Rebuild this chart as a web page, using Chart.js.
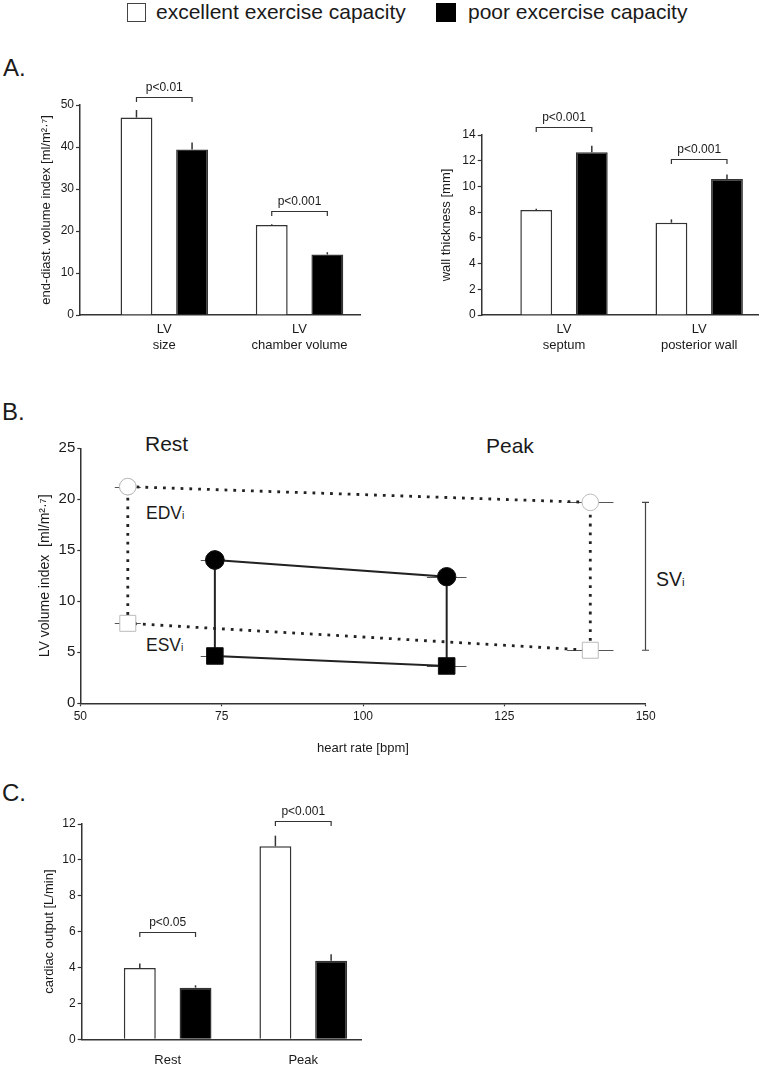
<!DOCTYPE html>
<html><head><meta charset="utf-8">
<script src="https://cdn.jsdelivr.net/npm/chart.js@4/dist/chart.umd.min.js"></script>
<style>
body{margin:0;background:#fff;}
#page{position:relative;width:760px;height:1066px;overflow:hidden;font-family:"Liberation Sans",Arial,sans-serif;color:#1a1a1a;background:#fff;}
.t{position:absolute;white-space:nowrap;line-height:1;}
.box{position:absolute;box-sizing:border-box;}
canvas{position:absolute;}
.sub{font-size:0.6em;}
</style></head><body><div id="page">
<div class="box" style="left:127px;top:3px;width:19px;height:19px;border:1.5px solid #444;background:#fff"></div>
<div class="t" id="lg0" style="left:156px;top:1px;font-size:21px"></div>
<div class="box" style="left:436px;top:3px;width:20px;height:19px;background:#000"></div>
<div class="t" id="lg1" style="left:468px;top:1px;font-size:21px"></div>
<div class="t" style="left:3px;top:56px;font-size:24px">A.</div>
<div class="t" style="left:2px;top:400px;font-size:24px">B.</div>
<div class="t" style="left:2px;top:781px;font-size:24px">C.</div>
<div class="t" style="left:145px;top:433px;font-size:21px">Rest</div>
<div class="t" style="left:486px;top:435px;font-size:21px">Peak</div>
<div class="t" style="left:146px;top:505px;font-size:17.5px">EDV<span class="sub">i</span></div>
<div class="t" style="left:146px;top:637px;font-size:17.5px">ESV<span class="sub">i</span></div>
<div class="t" style="left:656px;top:570px;font-size:19.5px">SV<span class="sub">i</span></div>
<canvas id="cA1" width="380" height="305" style="left:0;top:70px"></canvas>
<canvas id="cA2" width="380" height="305" style="left:380px;top:70px"></canvas>
<canvas id="cB" width="760" height="341" style="left:0;top:425px"></canvas>
<canvas id="cC" width="400" height="286" style="left:0;top:780px"></canvas>
</div>
<script>
// ---------- data ----------
const groups = ['excellent exercise capacity', 'poor excercise capacity'];

// Panel A (left): end-diastolic volume index
const catsA1 = [['LV', 'size'], ['LV', 'chamber volume']];
const edviExcellent = [47.0, 21.4];
const edviPoor = [39.4, 14.4];
const edviExcellentErr = [1.8, 0.2];
const edviPoorErr = [1.7, 0.55];
const sigA1Labels = ['p<0.01', 'p<0.001'];
const sigA1Levels = [51.8, 24.8];

// Panel A (right): wall thickness
const catsA2 = [['LV', 'septum'], ['LV', 'posterior wall']];
const wallExcellent = [8.16, 7.18];
const wallPoor = [12.65, 10.58];
const wallExcellentErr = [0.1, 0.26];
const wallPoorErr = [0.52, 0.34];
const sigA2Labels = ['p<0.001', 'p<0.001'];
const sigA2Levels = [14.62, 12.11];

// Panel B: LV volume index vs heart rate (rest, peak)
const hrExcellent = [58.4, 140.2];
const hrPoor = [73.8, 114.8];
const hrExcellentSD = [2.3, 4.1];
const hrPoorSD = [2.5, 3.5];
const edvExcellent = [21.24, 19.7];
const esvExcellent = [7.84, 5.2];
const edvPoor = [14.05, 12.41];
const esvPoor = [4.64, 3.66];

// Panel C: cardiac output
const catsC = ['Rest', 'Peak'];
const coExcellent = [3.97, 10.76];
const coPoor = [2.88, 4.38];
const coExcellentErr = [0.26, 0.59];
const coPoorErr = [0.13, 0.36];
const sigCLabels = ['p<0.05', 'p<0.001'];
const sigCLevels = [6.0, 12.18];

// ---------- rendering ----------
document.getElementById('lg0').textContent = groups[0];
document.getElementById('lg1').textContent = groups[1];

Chart.defaults.font.family = '"Liberation Sans", Arial, sans-serif';
Chart.defaults.color = '#1a1a1a';
Chart.defaults.animation = false;

function barAnnotPlugin(levels, labels) {
  return {
    id: 'barAnnot',
    afterDatasetsDraw(chart) {
      const ctx = chart.ctx, y = chart.scales.y;
      ctx.save();
      ctx.strokeStyle = '#333';
      ctx.lineWidth = 1.5;
      chart.data.datasets.forEach((ds, di) => {
        const meta = chart.getDatasetMeta(di);
        meta.data.forEach((bar, i) => {
          const v = ds.data[i].y, e = ds.errors[i];
          ctx.beginPath();
          ctx.moveTo(bar.x, y.getPixelForValue(v));
          ctx.lineTo(bar.x, y.getPixelForValue(v + e));
          ctx.stroke();
        });
      });
      const m0 = chart.getDatasetMeta(0), m1 = chart.getDatasetMeta(1);
      ctx.lineWidth = 1.2;
      ctx.fillStyle = '#1a1a1a';
      ctx.font = '12px "Liberation Sans", Arial, sans-serif';
      ctx.textAlign = 'center';
      ctx.textBaseline = 'alphabetic';
      levels.forEach((lv, i) => {
        const yy = Math.round(y.getPixelForValue(lv)) + 0.5;
        const x0 = m0.data[i].x, x1 = m1.data[i].x;
        ctx.beginPath();
        ctx.moveTo(x0, yy + 4.5); ctx.lineTo(x0, yy); ctx.lineTo(x1, yy); ctx.lineTo(x1, yy + 4.5);
        ctx.stroke();
        ctx.fillText(labels[i], (x0 + x1) / 2, yy - 7);
      });
      ctx.restore();
    }
  };
}

function barChart(id, cats, s1, s2, e1, e2, levels, labels, o) {
  const toXY = arr => arr.map((v, i) => ({ x: i, y: v }));
  new Chart(document.getElementById(id), {
    type: 'bar',
    data: {
      datasets: [
        { label: groups[0], data: toXY(s1), errors: e1, backgroundColor: '#ffffff', borderColor: '#333', borderWidth: 1.5,
          categoryPercentage: 0.822, barPercentage: 0.573 },
        { label: groups[1], data: toXY(s2), errors: e2, backgroundColor: '#000000', borderColor: '#333', borderWidth: 1.5,
          categoryPercentage: 0.822, barPercentage: 0.573 }
      ]
    },
    options: {
      responsive: false,
      layout: { padding: { top: o.padTop, right: o.padRight, left: 0, bottom: 0 } },
      plugins: { legend: { display: false }, tooltip: { enabled: false } },
      scales: {
        x: {
          type: 'linear', min: o.xMin, max: o.xMax, offset: false,
          afterBuildTicks: s => { s.ticks = cats.map((c, i) => ({ value: i })); },
          ticks: { callback: v => cats[v], font: { size: 13 }, padding: o.xPad, maxRotation: 0, autoSkip: false },
          grid: { display: false, drawTicks: false, offset: false },
          border: { color: '#333', width: 1.5 },
          afterFit: s => { s.height = o.xH; }
        },
        y: {
          min: 0, max: o.yMax,
          ticks: { stepSize: o.step, font: { size: 12 }, padding: 2 },
          grid: { drawOnChartArea: false, drawTicks: true, tickLength: 4, tickColor: '#333', tickWidth: 1.2 },
          border: { color: '#333', width: 1.5 },
          title: { display: true, text: o.yTitle, font: { size: 13 }, padding: { top: o.titlePad, bottom: 0 } },
          afterFit: s => { s.width = o.axisW; }
        }
      }
    },
    plugins: [barAnnotPlugin(levels, labels)]
  });
}

barChart('cA1', catsA1, edviExcellent, edviPoor, edviExcellentErr, edviPoorErr, sigA1Levels, sigA1Labels,
  { padTop: 35, padRight: 20, xMin: -0.623, xMax: 1.447, xPad: 7, xH: 60, yMax: 50, step: 10,
    yTitle: 'end-diast. volume index [ml/m²·⁷]', titlePad: 39, axisW: 80 });

barChart('cA2', catsA2, wallExcellent, wallPoor, wallExcellentErr, wallPoorErr, sigA2Levels, sigA2Labels,
  { padTop: 65, padRight: 2, xMin: -0.609, xMax: 1.435, xPad: 7, xH: 60, yMax: 14, step: 2,
    yTitle: 'wall thickness [mm]', titlePad: 59, axisW: 101.7 });

barChart('cC', catsC, coExcellent, coPoor, coExcellentErr, coPoorErr, sigCLevels, sigCLabels,
  { padTop: 44, padRight: 38.3, xMin: -0.634, xMax: 1.431, xPad: 13, xH: 26.7, yMax: 12, step: 2,
    yTitle: 'cardiac output [L/min]', titlePad: 42, axisW: 81.7 });

// Panel B
function loop(hr, edv, esv) {
  return [
    { x: hr[0], y: edv[0] }, { x: hr[1], y: edv[1] },
    { x: hr[1], y: esv[1] }, { x: hr[0], y: esv[0] }, { x: hr[0], y: edv[0] }
  ];
}
const pbPlugin = {
  id: 'pbAnnot',
  beforeDatasetsDraw(chart) {
    const ctx = chart.ctx, xs = chart.scales.x, ys = chart.scales.y;
    ctx.save();
    ctx.strokeStyle = '#555';
    ctx.lineWidth = 1;
    chart.data.datasets.forEach(ds => {
      ds.data.slice(0, 4).forEach((p, i) => {
        const sd = ds.hrSD[(i === 0 || i === 3) ? 0 : 1];
        const yy = Math.round(ys.getPixelForValue(p.y)) + 0.5;
        ctx.beginPath();
        ctx.moveTo(xs.getPixelForValue(p.x - sd), yy);
        ctx.lineTo(xs.getPixelForValue(p.x + sd), yy);
        ctx.stroke();
      });
    });
    ctx.restore();
  },
  afterDatasetsDraw(chart) {
    const ctx = chart.ctx, xs = chart.scales.x, ys = chart.scales.y;
    const x = Math.round(xs.getPixelForValue(xs.max)) - 0.5;
    const y0 = ys.getPixelForValue(edvExcellent[1]);
    const y1 = ys.getPixelForValue(esvExcellent[1]);
    ctx.save();
    ctx.strokeStyle = '#444';
    ctx.lineWidth = 1.2;
    ctx.beginPath();
    ctx.moveTo(x, y0); ctx.lineTo(x, y1);
    ctx.moveTo(x - 3.5, y0); ctx.lineTo(x + 3.5, y0);
    ctx.moveTo(x - 3.5, y1); ctx.lineTo(x + 3.5, y1);
    ctx.stroke();
    ctx.restore();
  }
};

new Chart(document.getElementById('cB'), {
  type: 'scatter',
  data: {
    datasets: [
      { label: groups[0], data: loop(hrExcellent, edvExcellent, esvExcellent), hrSD: hrExcellentSD,
        showLine: true, borderColor: '#222', borderWidth: 2.8, borderDash: [2.8, 6], borderCapStyle: 'butt', tension: 0,
        pointStyle: ['circle', 'circle', 'rect', 'rect', 'circle'], pointRadius: [8.3, 8.3, 11.3, 11.3, 8.3],
        pointBackgroundColor: '#fff', pointBorderColor: '#bbb', pointBorderWidth: 1, pointHoverRadius: 0 },
      { label: groups[1], data: loop(hrPoor, edvPoor, esvPoor), hrSD: hrPoorSD,
        showLine: true, borderColor: '#222', borderWidth: 2, tension: 0,
        pointStyle: ['circle', 'circle', 'rect', 'rect', 'circle'], pointRadius: [9.2, 9.2, 11.7, 11.7, 9.2],
        pointBackgroundColor: '#000', pointBorderColor: '#111', pointBorderWidth: 1, pointHoverRadius: 0 }
    ]
  },
  options: {
    responsive: false,
    layout: { padding: { top: 23.3, right: 114.3, left: 0, bottom: 0 } },
    plugins: { legend: { display: false }, tooltip: { enabled: false } },
    scales: {
      x: {
        type: 'linear', min: 50, max: 150,
        ticks: { stepSize: 25, font: { size: 12 }, padding: 3 },
        grid: { drawOnChartArea: false, tickLength: 3, tickColor: '#333', tickWidth: 1.2 },
        border: { color: '#333', width: 1.5 },
        title: { display: true, text: 'heart rate [bpm]', font: { size: 13 }, padding: { top: 0, bottom: 10 } },
        afterFit: s => { s.height = 62.7; }
      },
      y: {
        min: 0, max: 25,
        ticks: { stepSize: 5, font: { size: 15 }, padding: 2 },
        grid: { drawOnChartArea: false, tickLength: 3, tickColor: '#333', tickWidth: 1.2 },
        border: { color: '#333', width: 1.5 },
        title: { display: true, text: 'LV volume index  [ml/m²·⁷]', font: { size: 14 }, padding: { top: 37, bottom: 0 } },
        afterFit: s => { s.width = 80.3; }
      }
    }
  },
  plugins: [pbPlugin]
});
</script>
</body></html>
